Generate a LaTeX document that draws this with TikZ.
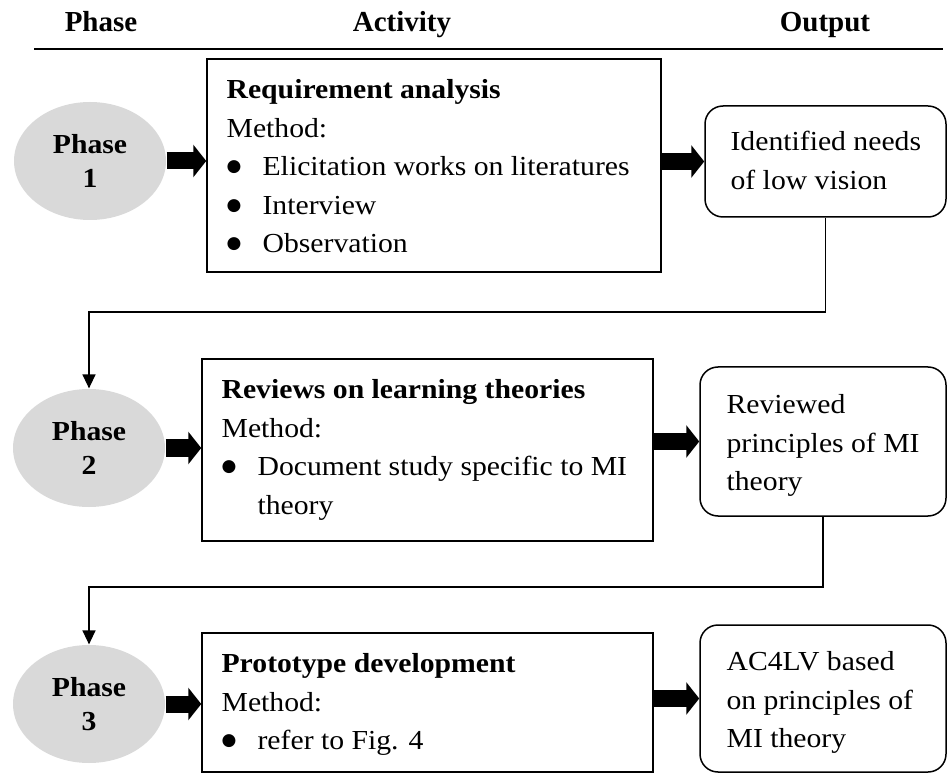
\documentclass[tikz,border=0pt]{standalone}
\usepackage{fontspec}
\setmainfont{Liberation Serif}[FakeStretch=1.08]
\newfontfamily\headfont{Liberation Serif}
\newfontfamily\dotfont{DejaVu Sans}
\usetikzlibrary{shapes.geometric,arrows.meta}
\newcommand\bitem{\makebox[36pt][l]{\raisebox{4pt}{\dotfont\fontsize{17}{17}\selectfont ●}}}
\tikzset{every picture/.style={line width=1.2pt}}

\begin{document}
\begin{tikzpicture}[x=1pt,y=-1pt,font=\fontsize{27.5}{38.5}\selectfont,
    phase/.style={ellipse,fill=black!15,minimum width=152pt,minimum height=118pt,
      align=center,font=\fontsize{27.5}{38.5}\selectfont\bfseries},
    actbox/.style={draw,rectangle,line width=1.5pt,inner sep=0pt},
    outbox/.style={draw,rectangle,rounded corners=18pt,line width=1.5pt,inner sep=0pt},
    txt/.style={anchor=north west,inner sep=0pt,align=left},
    head/.style={anchor=base,font=\headfont\fontsize{29}{34}\selectfont\bfseries},
    fat/.style={line width=17pt,-{Triangle[length=13pt,width=32pt]}},
    link/.style={line width=1.3pt,-{Triangle[length=14pt,width=13pt]}}]
  \useasboundingbox (0,0) rectangle (948,775);
  % header
  \node[head] (hphase) at (101,32) {Phase};
  \node[head] (hact) at (402,32) {Activity};
  \node[head] (hout) at (825,32) {Output};
  \draw (34,49) -- (943,49);
  % phases
  \node[phase] (ell1) at (90,161) {\raisebox{-4pt}{Phase}\\1};
  \node[phase] (ell2) at (89,448) {\raisebox{-4pt}{Phase}\\2};
  \node[phase] (ell3) at (89,704) {\raisebox{-4pt}{Phase}\\3};
  % activities
  \node[actbox,minimum width=454pt,minimum height=213pt] (act1) at (434,165.5) {};
  \node[actbox,minimum width=451pt,minimum height=182pt] (act2) at (427.5,450) {};
  \node[actbox,minimum width=451pt,minimum height=139pt] (act3) at (427.5,702.5) {};
  \node[txt] (act1txt) at (226,71) {\strut\textbf{Requirement analysis}\\Method:\\
    \bitem Elicitation works on literatures\\\bitem Interview\\\bitem Observation};
  \node[txt] (act2txt) at (221,371) {\strut\textbf{Reviews on learning theories}\\Method:\\
    \bitem Document study specific to MI\\\hspace*{36pt}theory};
  \node[txt] (act3txt) at (221,645) {\strut\textbf{Prototype development}\\Method:\\
    \bitem refer to Fig. 4};
  % outputs
  \node[outbox,minimum width=241pt,minimum height=111pt] (out1) at (825.5,161.5) {};
  \node[outbox,minimum width=246pt,minimum height=149pt] (out2) at (823,441.5) {};
  \node[outbox,minimum width=246pt,minimum height=147pt] (out3) at (823,698.5) {};
  \node[txt] (out1txt) at (730,123) {\strut Identified needs\\of low vision};
  \node[txt] (out2txt) at (726,386) {\strut Reviewed\\principles of MI\\theory};
  \node[txt] (out3txt) at (726,643) {\strut AC4LV based\\on principles of\\MI theory};
  % block arrows
  \draw[fat] (ell1.east) -- (ell1.east -| act1.west);
  \draw[fat] (ell2.east) -- (ell2.east -| act2.west);
  \draw[fat] (ell3.east) -- (ell3.east -| act3.west);
  \draw[fat] (act1.east |- out1.west) -- (out1.west);
  \draw[fat] (act2.east |- out2.west) -- (out2.west);
  \draw[fat] (act3.east |- out3.west) -- (out3.west);
  % links to next phase
  \coordinate (turn1) at (0,312);
  \coordinate (turn2) at (0,587);
  \draw[link] (out1.south) |- (ell2.north |- turn1) -- (ell2.north);
  \draw[link] (out2.south) |- (ell3.north |- turn2) -- (ell3.north);
\end{tikzpicture}
\end{document}
